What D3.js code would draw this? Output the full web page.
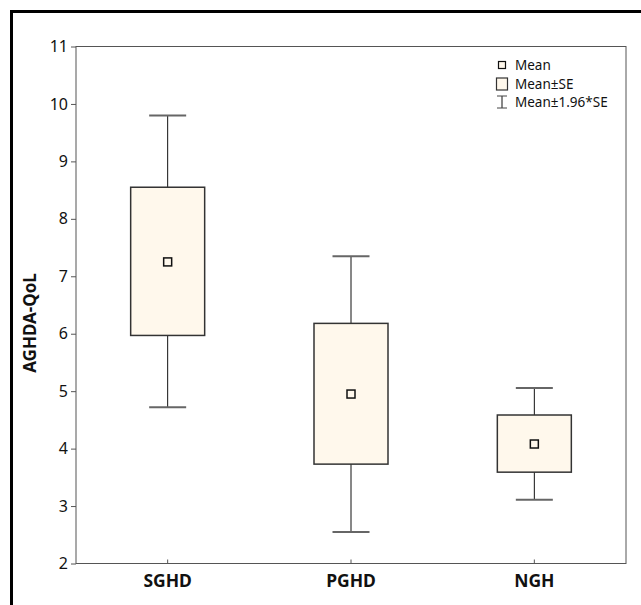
<!DOCTYPE html>
<html>
<head>
<meta charset="utf-8">
<script src="https://cdn.jsdelivr.net/npm/d3@7"></script>
<style>
  html, body { margin: 0; padding: 0; background: #fff; }
  svg { display: block; }
  text { font-family: "Noto Sans", "Open Sans", sans-serif; fill: #111; }
</style>
</head>
<body>
<svg id="chart" width="641" height="605"></svg>
<script>
  // groups and their summary stats
  var groups = ["SGHD", "PGHD", "NGH"];
  var means = [7.25, 4.95, 4.08];
  var seLow = [5.97, 3.73, 3.59];
  var seHigh = [8.55, 6.18, 4.585];
  var ciLow = [4.72, 2.55, 3.11];
  var ciHigh = [9.80, 7.35, 5.055];
  var yTicks = [2, 3, 4, 5, 6, 7, 8, 9, 10, 11];
  var legendLabels = ["Mean", "Mean\u00b1SE", "Mean\u00b11.96*SE"];

  var W = 641, H = 605;
  var margin = {top: 46.5, right: 15, bottom: 41.5, left: 76};
  var fillColor = "#fff8ec";

  var svg = d3.select("#chart");

  // outer frame
  svg.append("rect")
      .attr("x", 11.5)
      .attr("y", 11.5)
      .attr("width", W)
      .attr("height", H)
      .attr("fill", "none")
      .attr("stroke", "#000")
      .attr("stroke-width", 3);

  var x = d3.scaleBand()
      .domain(groups)
      .range([margin.left, W - margin.right])
      .padding(0);

  var y = d3.scaleLinear()
      .domain([2, 11])
      .range([H - margin.bottom, margin.top]);

  var g = svg.append("g");

  // plot area frame
  g.append("rect")
      .attr("x", margin.left)
      .attr("y", margin.top)
      .attr("width", W - margin.right - margin.left)
      .attr("height", H - margin.bottom - margin.top)
      .attr("fill", "none")
      .attr("stroke", "#555")
      .attr("stroke-width", 1);

  // y axis
  var yAxis = g.append("g")
      .attr("transform", "translate(" + margin.left + ",0)")
      .call(d3.axisLeft(y).tickValues(yTicks).tickSize(5).tickPadding(3).tickFormat(d3.format("d")));
  yAxis.select(".domain").remove();
  yAxis.selectAll(".tick line").attr("stroke", "#555");
  yAxis.selectAll(".tick text")
      .style("font-size", "16px")
      .style("font-family", "'Noto Sans', sans-serif")
      .attr("fill", "#111");

  // x axis
  var xAxis = g.append("g")
      .attr("transform", "translate(0," + (H - margin.bottom) + ")")
      .call(d3.axisBottom(x).tickSizeInner(-4).tickSizeOuter(0).tickPadding(11));
  xAxis.select(".domain").remove();
  xAxis.selectAll(".tick line").attr("stroke", "#555");
  xAxis.selectAll(".tick text")
      .style("font-size", "17.5px")
      .style("font-weight", "bold")
      .style("font-family", "'Noto Sans', sans-serif")
      .attr("fill", "#111");

  // y title
  svg.append("text")
      .attr("transform", "translate(36,323) rotate(-90)")
      .attr("text-anchor", "middle")
      .style("font-size", "17px")
      .style("font-weight", "bold")
      .text("AGHDA-QoL");

  var boxW = 74, capW = 37, markW = 8;

  var items = g.selectAll("g.item")
      .data(groups)
      .enter()
      .append("g")
      .attr("class", "item")
      .attr("transform", function(d) {
        return "translate(" + (x(d) + x.bandwidth() / 2) + ",0)";
      });

  // whiskers
  items.append("line")
      .attr("x1", 0).attr("x2", 0)
      .attr("y1", function(d, i) { return y(ciHigh[i]); })
      .attr("y2", function(d, i) { return y(ciLow[i]); })
      .attr("stroke", "#111");
  items.selectAll("line.cap")
      .data(function(d, i) { return [ciLow[i], ciHigh[i]]; })
      .enter()
      .append("line")
      .attr("class", "cap")
      .attr("x1", -capW / 2).attr("x2", capW / 2)
      .attr("y1", function(v) { return y(v); })
      .attr("y2", function(v) { return y(v); })
      .attr("stroke", "#666")
      .attr("stroke-width", 2);

  // SE box
  items.append("rect")
      .attr("x", -boxW / 2)
      .attr("width", boxW)
      .attr("y", function(d, i) { return y(seHigh[i]); })
      .attr("height", function(d, i) { return y(seLow[i]) - y(seHigh[i]); })
      .attr("fill", fillColor)
      .attr("stroke", "#333")
      .attr("stroke-width", 1.5);

  // mean marker
  items.append("rect")
      .attr("x", -markW / 2)
      .attr("width", markW)
      .attr("y", function(d, i) { return y(means[i]) - markW / 2; })
      .attr("height", markW)
      .attr("fill", fillColor)
      .attr("stroke", "#111")
      .attr("stroke-width", 1.5);

  // legend
  var leg = svg.append("g").attr("transform", "translate(502,0)");
  var legY = [65, 84, 102];
  leg.append("rect")
      .attr("x", -3.5).attr("y", legY[0] - 3.5)
      .attr("width", 7).attr("height", 7)
      .attr("fill", fillColor).attr("stroke", "#111").attr("stroke-width", 1.2);
  leg.append("rect")
      .attr("x", -5.5).attr("y", legY[1] - 6)
      .attr("width", 11).attr("height", 12)
      .attr("fill", fillColor).attr("stroke", "#333").attr("stroke-width", 1.2);
  leg.append("line")
      .attr("x1", 0).attr("x2", 0).attr("y1", legY[2] - 6).attr("y2", legY[2] + 6)
      .attr("stroke", "#111");
  leg.append("line")
      .attr("x1", -5).attr("x2", 5).attr("y1", legY[2] - 6).attr("y2", legY[2] - 6)
      .attr("stroke", "#444");
  leg.append("line")
      .attr("x1", -5).attr("x2", 5).attr("y1", legY[2] + 6).attr("y2", legY[2] + 6)
      .attr("stroke", "#444");
  leg.selectAll("text.lab")
      .data(legendLabels)
      .enter()
      .append("text")
      .attr("class", "lab")
      .attr("x", 13)
      .attr("y", function(d, i) { return legY[i]; })
      .attr("dy", "0.35em")
      .style("font-size", "13.5px")
      .text(function(d) { return d; });
</script>
</body>
</html>
